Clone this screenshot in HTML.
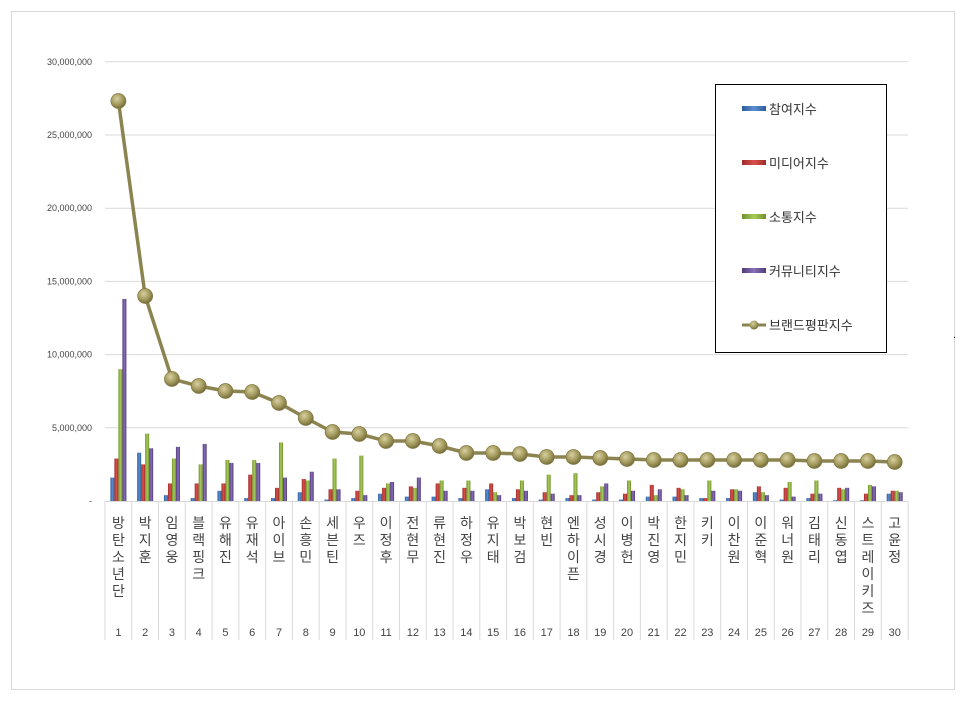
<!DOCTYPE html>
<html><head><meta charset="utf-8"><style>
body{margin:0;background:#fff;}
svg{display:block;font-family:"Liberation Sans","Noto Sans CJK KR",sans-serif;}
</style></head><body>
<svg id="s" width="966" height="701" xmlns="http://www.w3.org/2000/svg">
<defs>
<linearGradient id="gb" x1="0" x2="1"><stop offset="0" stop-color="#2d5c9a"/><stop offset=".5" stop-color="#5b8fd0"/><stop offset="1" stop-color="#2d5c9a"/></linearGradient>
<linearGradient id="gr" x1="0" x2="1"><stop offset="0" stop-color="#9e2b28"/><stop offset=".5" stop-color="#d9504c"/><stop offset="1" stop-color="#9e2b28"/></linearGradient>
<linearGradient id="gg" x1="0" x2="1"><stop offset="0" stop-color="#6f8f2c"/><stop offset=".5" stop-color="#a9cc58"/><stop offset="1" stop-color="#6f8f2c"/></linearGradient>
<linearGradient id="gp" x1="0" x2="1"><stop offset="0" stop-color="#4e3a78"/><stop offset=".5" stop-color="#8a70b8"/><stop offset="1" stop-color="#4e3a78"/></linearGradient>
<radialGradient id="dot" cx=".4" cy=".35" r=".65"><stop offset="0" stop-color="#d8d0a0"/><stop offset=".6" stop-color="#a39a5e"/><stop offset="1" stop-color="#766e3c"/></radialGradient>
</defs>
<rect x="11.5" y="11.5" width="943" height="678" fill="#fff" stroke="#d9d9d9"/>
<g id="g"></g>
<rect x="715.5" y="84.5" width="171" height="268" fill="#fff" stroke="#000"/>
<g font-size="13" fill="#333">
<rect x="742" y="106" width="24" height="5" fill="url(#gb)"/><text x="769" y="114">참여지수</text>
<rect x="742" y="160" width="24" height="5" fill="url(#gr)"/><text x="769" y="168">미디어지수</text>
<rect x="742" y="214" width="24" height="5" fill="url(#gg)"/><text x="769" y="222">소통지수</text>
<rect x="742" y="268" width="24" height="5" fill="url(#gp)"/><text x="769" y="276">커뮤니티지수</text>
<line x1="742" y1="325" x2="766" y2="325" stroke="#8c8450" stroke-width="3"/><circle cx="754" cy="325" r="4.5" fill="url(#dot)"/><text x="769" y="330">브랜드평판지수</text>
</g>
<text x="953" y="338" font-size="11">.</text>
</svg>
<script>
var names=["방탄소년단","박지훈","임영웅","블랙핑크","유해진","유재석","아이브","손흥민","세븐틴","우즈","이정후","전현무","류현진","하정우","유지태","박보검","현빈","옌하이픈","성시경","이병헌","박진영","한지민","키키","이찬원","이준혁","워너원","김태리","신동엽","스트레이키즈","고윤정"];
names[17]="엔하이픈";
var bars=[[1.6,2.9,9.0,13.8],[3.3,2.5,4.6,3.6],[0.4,1.2,2.9,3.7],[0.2,1.2,2.5,3.9],[0.7,1.2,2.8,2.6],[0.2,1.8,2.8,2.6],[0.2,0.9,4.0,1.6],[0.6,1.5,1.4,2.0],[0.1,0.8,2.9,0.8],[0.2,0.7,3.1,0.4],[0.5,0.9,1.2,1.3],[0.3,1.0,0.9,1.6],[0.3,1.2,1.4,0.7],[0.2,0.9,1.4,0.7],[0.8,1.2,0.6,0.4],[0.2,0.8,1.4,0.7],[0.1,0.6,1.8,0.5],[0.2,0.4,1.9,0.4],[0.1,0.6,1.0,1.2],[0.1,0.5,1.4,0.7],[0.3,1.1,0.4,0.8],[0.3,0.9,0.8,0.4],[0.2,0.2,1.4,0.7],[0.2,0.8,0.8,0.7],[0.6,1.0,0.6,0.4],[0.1,0.9,1.3,0.3],[0.2,0.5,1.4,0.5],[0.05,0.9,0.8,0.9],[0.05,0.5,1.1,1.0],[0.5,0.7,0.7,0.6]];
var ly=[101,296,379,386,391,392,403,418,432,434,441,441,446,453,453,454,457,457,458,459,460,460,460,460,460,460,461,461,461,462];
var y0=501,k=14.64,x0=105,w=26.77,h='';
var labs=["-","5,000,000","10,000,000","15,000,000","20,000,000","25,000,000","30,000,000"];
for(var i=0;i<7;i++){var y=y0-i*73.2;if(i>0)h+='<line x1="105" x2="908" y1="'+y+'" y2="'+y+'" stroke="#d9d9d9"/>';h+='<text x="92" y="'+(y+3)+'" font-size="9" fill="#444" text-anchor="end">'+labs[i]+'</text>';}
for(var i=0;i<=30;i++){var x=x0+i*w;h+='<line x1="'+x+'" x2="'+x+'" y1="501" y2="640" stroke="#d9d9d9"/>';}
h+='<line x1="105" x2="908" y1="501.5" y2="501.5" stroke="#d9d9d9"/>';
var fills=["url(#gb)","url(#gr)","url(#gg)","url(#gp)"];
var pts=[];
for(var i=0;i<30;i++){var c=x0+i*w+w/2;
for(var j=0;j<4;j++){var bh=bars[i][j]*k;h+='<rect x="'+(c-8+j*4)+'" y="'+(y0-bh)+'" width="4" height="'+bh+'" fill="'+fills[j]+'"/>';}
pts.push(c+','+ly[i]);
var ch=names[i].split('');for(var m=0;m<ch.length;m++)h+='<text x="'+c+'" y="'+(528+m*17)+'" font-size="14" fill="#444" text-anchor="middle">'+ch[m]+'</text>';
h+='<text x="'+c+'" y="636" font-size="11" fill="#444" text-anchor="middle">'+(i+1)+'</text>';}
h+='<polyline points="'+pts.join(' ')+'" fill="none" stroke="#8c8450" stroke-width="3.5"/>';
for(var i=0;i<30;i++){var c=x0+i*w+w/2;h+='<circle cx="'+c+'" cy="'+ly[i]+'" r="7.5" fill="url(#dot)" stroke="#80773f" stroke-width=".7"/>';}
document.getElementById('g').innerHTML=h;
</script>
</body></html>
